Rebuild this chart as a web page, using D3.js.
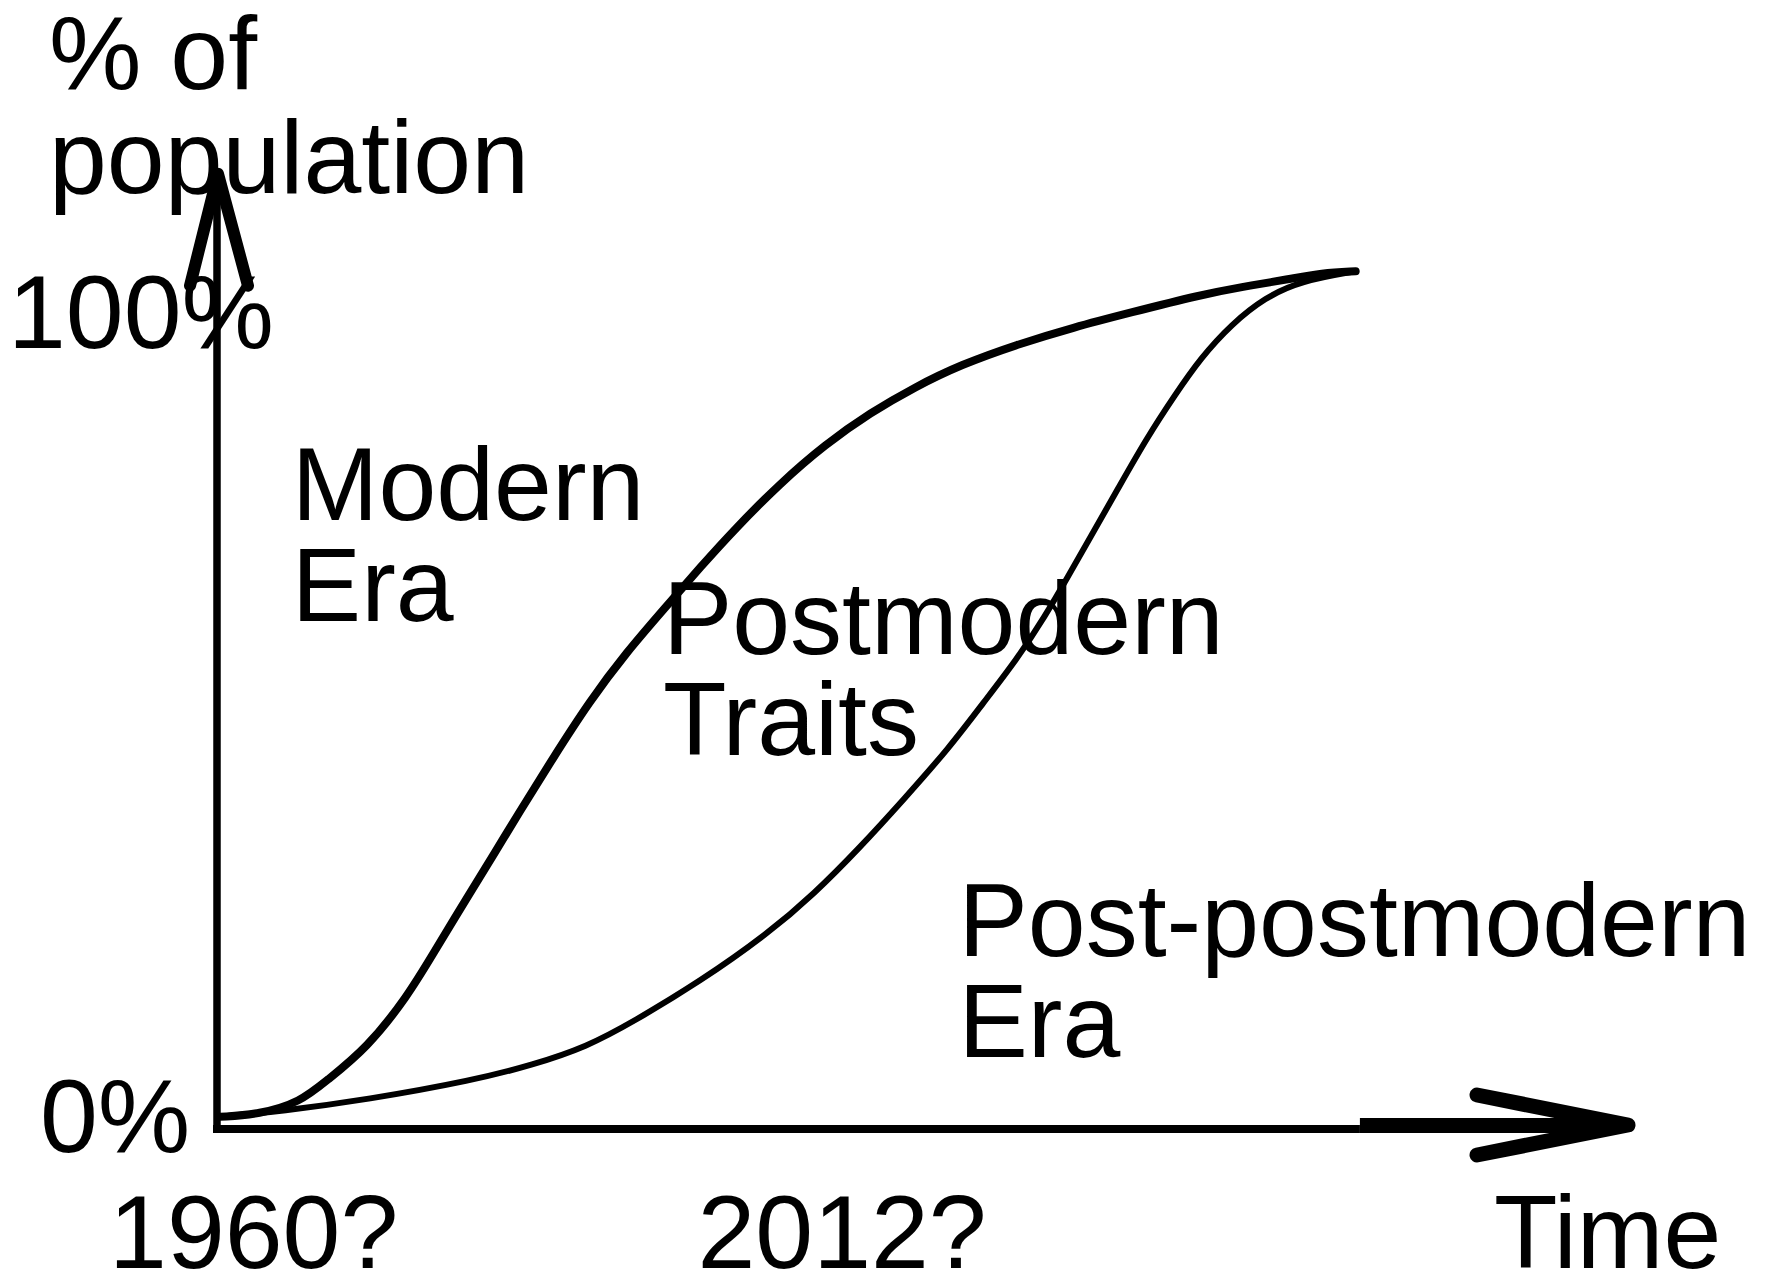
<!DOCTYPE html>
<html>
<head>
<meta charset="utf-8">
<script src="https://cdn.jsdelivr.net/npm/d3@7"></script>
<style>
  html, body { margin: 0; padding: 0; background: #fff; }
  svg { display: block; }
  text { font-family: "Liberation Sans", Arial, sans-serif; fill: #000; }
</style>
</head>
<body>
<svg id="chart" width="1771" height="1276"></svg>
<script>
// ---- data (time in arbitrary units 0..100, share of population in %) ----
const modernBoundaryTime = [0.2, 3.0, 5.9, 7.8, 10.6, 13.5, 15.4, 17.7, 19.8, 21.3, 23.8, 26.4, 29.0, 31.8, 34.3, 36.7, 39.9, 43.1, 46.3, 49.5, 52.7, 56.7, 60.7, 64.7, 69.7, 72.7, 75.9, 78.3, 80.7];
const modernBoundaryPct  = [1.5, 1.8, 3.3, 6.0, 9.9, 16.3, 21.8, 28.4, 34.3, 38.6, 45.6, 52.6, 58.6, 64.2, 69.2, 73.8, 79.4, 84.2, 88.1, 91.3, 94.0, 96.5, 98.6, 100.4, 102.6, 103.6, 104.5, 105.3, 105.5];

const postBoundaryTime = [0.2, 4.6, 10.6, 18.2, 22.4, 26.2, 29.5, 34.2, 39.1, 42.3, 45.5, 48.7, 51.9, 54.3, 56.7, 58.7, 60.3, 61.9, 63.9, 65.9, 67.9, 69.7, 71.9, 74.3, 76.8, 80.7];
const postBoundaryPct  = [1.5, 2.2, 3.6, 6.0, 7.9, 10.1, 13.2, 18.1, 24.1, 28.9, 34.5, 40.6, 46.9, 52.4, 57.8, 63.1, 67.9, 72.8, 78.9, 85.0, 90.3, 94.8, 99.0, 102.3, 104.3, 105.5];

const yTickLabels = ["0%", "100%"];
const xTickLabels = ["1960?", "2012?"];
const xTickTimes  = [2.6, 44.3];
const xAxisTitle = "Time";
const yAxisTitle = ["% of", "population"];
const regionLabels = [
  { lines: ["Modern", "Era"], t: 5.3, p: 74.9 },
  { lines: ["Postmodern", "Traits"], t: 31.6, p: 58.4 },
  { lines: ["Post-postmodern", "Era"], t: 52.55, p: 21.3 }
];

// ---- layout ----
const svg = d3.select("#chart");
const fontSize = 104;
const lineGap = 101;

const x = d3.scaleLinear().domain([0, 100]).range([217, 1628]);
const y = d3.scaleLinear().domain([0, 100]).range([1129, 316]);

// axes
const yAxisTop = 117.5;   // arrow tip in % units
const xShaftStart = 81;   // thick part of x arrow

svg.append("line")
  .attr("x1", x(0)).attr("y1", y(0) + 4)
  .attr("x2", x(0)).attr("y2", y(yAxisTop) + 10)
  .attr("stroke", "#000").attr("stroke-width", 7.5);

svg.append("path")
  .attr("d", `M${x(0) - 27},${y(yAxisTop) + 112} L${x(0) + 1},${y(yAxisTop)} L${x(0) + 31},${y(yAxisTop) + 112}`)
  .attr("fill", "none").attr("stroke", "#000").attr("stroke-width", 12)
  .attr("stroke-linecap", "round").attr("stroke-linejoin", "round");

svg.append("line")
  .attr("x1", x(0) - 4).attr("y1", y(0))
  .attr("x2", x(xShaftStart)).attr("y2", y(0))
  .attr("stroke", "#000").attr("stroke-width", 8);

svg.append("line")
  .attr("x1", x(xShaftStart)).attr("y1", y(0) - 3.5)
  .attr("x2", x(100) - 6).attr("y2", y(0) - 3.5)
  .attr("stroke", "#000").attr("stroke-width", 15);

svg.append("path")
  .attr("d", `M${x(89.3)},${y(0) - 34} L${x(100)},${y(0) - 4} L${x(89.3)},${y(0) + 26}`)
  .attr("fill", "none").attr("stroke", "#000").attr("stroke-width", 15)
  .attr("stroke-linecap", "round").attr("stroke-linejoin", "round");

// curves
const line = d3.line()
  .x(d => x(d[0]))
  .y(d => y(d[1]))
  .curve(d3.curveBasis);

svg.append("path")
  .datum(d3.zip(modernBoundaryTime, modernBoundaryPct))
  .attr("d", line)
  .attr("fill", "none").attr("stroke", "#000").attr("stroke-width", 8)
  .attr("stroke-linecap", "round");

svg.append("path")
  .datum(d3.zip(postBoundaryTime, postBoundaryPct))
  .attr("d", line)
  .attr("fill", "none").attr("stroke", "#000").attr("stroke-width", 6)
  .attr("stroke-linecap", "round");

// text helpers
const txt = (s, px, py, anchor) => svg.append("text")
  .attr("x", px).attr("y", py)
  .attr("font-size", fontSize)
  .attr("text-anchor", anchor || "start")
  .text(s);

const multi = (lines, px, py, gap) => {
  const t = svg.append("text")
    .attr("x", px).attr("y", py)
    .attr("font-size", fontSize);
  lines.forEach((s, i) => t.append("tspan")
    .attr("x", px)
    .attr("dy", i === 0 ? 0 : gap)
    .text(s));
  return t;
};

// y-axis title
multi(yAxisTitle, 49, 89, 104);

// y tick labels
txt(yTickLabels[1], 8, 348);
txt(yTickLabels[0], 40, 1152);

// x tick labels
xTickLabels.forEach((s, i) => txt(s, x(xTickTimes[i]), 1268, "middle"));
txt(xAxisTitle, 1494, 1268);

// region labels
regionLabels.forEach(r => multi(r.lines, x(r.t), y(r.p), lineGap));
</script>
</body>
</html>
